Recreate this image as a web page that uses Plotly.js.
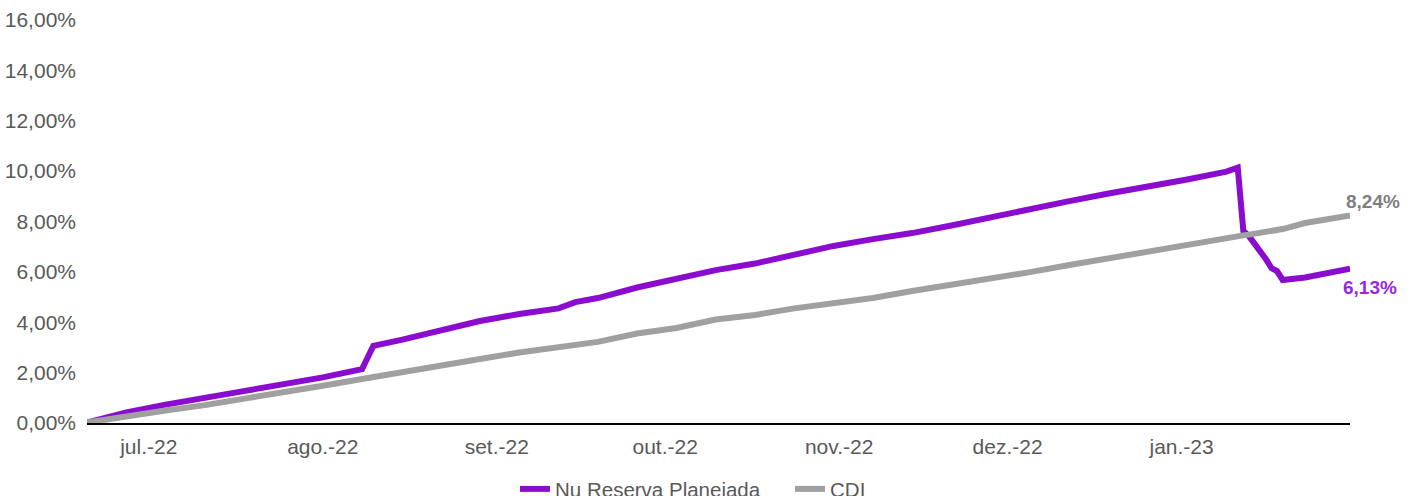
<!DOCTYPE html>
<html>
<head>
<meta charset="utf-8">
<script src="https://cdn.plot.ly/plotly-3.0.1.min.js"></script>
<style>
  html, body { margin: 0; padding: 0; background: #fff; }
  #chart { width: 1418px; height: 496px; }
</style>
</head>
<body>
<div id="chart"></div>
<script>
// ---- data ----
const dates = [
  '2022-06-20','2022-06-27','2022-07-04','2022-07-11','2022-07-18','2022-07-25',
  '2022-08-01','2022-08-08','2022-08-10','2022-08-15','2022-08-22','2022-08-29',
  '2022-09-05','2022-09-12','2022-09-15','2022-09-19','2022-09-26','2022-10-03',
  '2022-10-10','2022-10-17','2022-10-24','2022-10-31','2022-11-07','2022-11-14',
  '2022-11-21','2022-11-28','2022-12-05','2022-12-12','2022-12-19','2022-12-26',
  '2023-01-02','2023-01-09','2023-01-11','2023-01-12','2023-01-13','2023-01-16',
  '2023-01-17','2023-01-18','2023-01-19','2023-01-23','2023-01-27','2023-01-31'
];
const nuReserva = [
  0.02, 0.42, 0.73, 0.99, 1.23, 1.51,
  1.81, 2.14, 3.06, 3.30, 3.65, 4.05,
  4.33, 4.55, 4.80, 4.96, 5.38, 5.72,
  6.07, 6.33, 6.71, 7.03, 7.30, 7.54,
  7.84, 8.18, 8.50, 8.81, 9.11, 9.37,
  9.67, 9.98, 10.14, 7.62, 7.42, 6.51,
  6.15, 6.03, 5.68, 5.78, 5.95, 6.13
];
const cdi = [
  0.02, 0.29, 0.50, 0.71, 0.95, 1.23,
  1.48, 1.75, 1.82, 2.00, 2.26, 2.54,
  2.80, 3.02, 3.12, 3.22, 3.55, 3.77,
  4.11, 4.29, 4.55, 4.76, 4.96, 5.24,
  5.48, 5.78, 5.99, 6.27, 6.55, 6.83,
  7.07, 7.34, 7.41, 7.45, 7.48, 7.58,
  7.62, 7.66, 7.70, 7.94, 8.08, 8.24
];
const seriesNames = ['Nu Reserva Planejada', 'CDI'];
const monthTicks = ['2022-07-01','2022-08-01','2022-09-01','2022-10-01','2022-11-01','2022-12-01','2023-01-01'];
const monthLabels = ['jul.-22','ago.-22','set.-22','out.-22','nov.-22','dez.-22','jan.-23'];
const yTicks = [0, 2, 4, 6, 8, 10, 12, 14, 16];
const yTickLabels = ['0,00%','2,00%','4,00%','6,00%','8,00%','10,00%','12,00%','14,00%','16,00%'];
const endLabels = ['6,13%', '8,24%'];

const purple = '#8a0ccf';
const gray = '#a0a0a0';
const font = '"Liberation Sans", Arial, sans-serif';

const traces = [
  { x: dates, y: nuReserva, name: seriesNames[0], type: 'scatter', mode: 'lines',
    line: { color: purple, width: 6 } },
  { x: dates, y: cdi, name: seriesNames[1], type: 'scatter', mode: 'lines',
    line: { color: gray, width: 6 } }
];

const last = dates.length - 1;
const layout = {
  width: 1418, height: 496,
  margin: { l: 87, r: 68, t: 20, b: 73 },
  paper_bgcolor: '#fff', plot_bgcolor: '#fff',
  font: { family: font, size: 21, color: '#595959' },
  showlegend: true,
  legend: {
    orientation: 'h', x: 0.3389, xanchor: 'left',
    yref: 'container', y: 0.014, yanchor: 'middle',
    font: { family: font, size: 20.5, color: '#595959' },
    itemwidth: 30, entrywidth: 230, entrywidthmode: 'pixels',
    tracegroupgap: 0
  },
  xaxis: {
    type: 'date',
    range: [dates[0], dates[last]],
    tickvals: monthTicks, ticktext: monthLabels,
    showgrid: false, zeroline: false,
    showline: true, linecolor: '#000', linewidth: 2,
    ticks: '', ticklen: 0, ticklabelstandoff: 4,
    tickfont: { family: font, size: 21, color: '#595959' }
  },
  yaxis: {
    range: [0, 16],
    tickvals: yTicks, ticktext: yTickLabels,
    showgrid: false, zeroline: false, showline: false,
    ticks: '', ticklabelstandoff: 10,
    tickfont: { family: font, size: 21, color: '#595959' }
  },
  annotations: [
    { x: dates[last], y: cdi[last], xref: 'x', yref: 'y', text: '<b>' + endLabels[1] + '</b>',
      showarrow: false, xanchor: 'left', yanchor: 'middle', xshift: -6, yshift: 14,
      font: { family: font, size: 19, color: '#7f7f7f' } },
    { x: dates[last], y: nuReserva[last], xref: 'x', yref: 'y', text: '<b>' + endLabels[0] + '</b>',
      showarrow: false, xanchor: 'left', yanchor: 'middle', xshift: -9, yshift: -19,
      font: { family: font, size: 19, color: '#9b27e6' } }
  ]
};

Plotly.newPlot('chart', traces, layout, { staticPlot: true, displayModeBar: false });
</script>
</body>
</html>
